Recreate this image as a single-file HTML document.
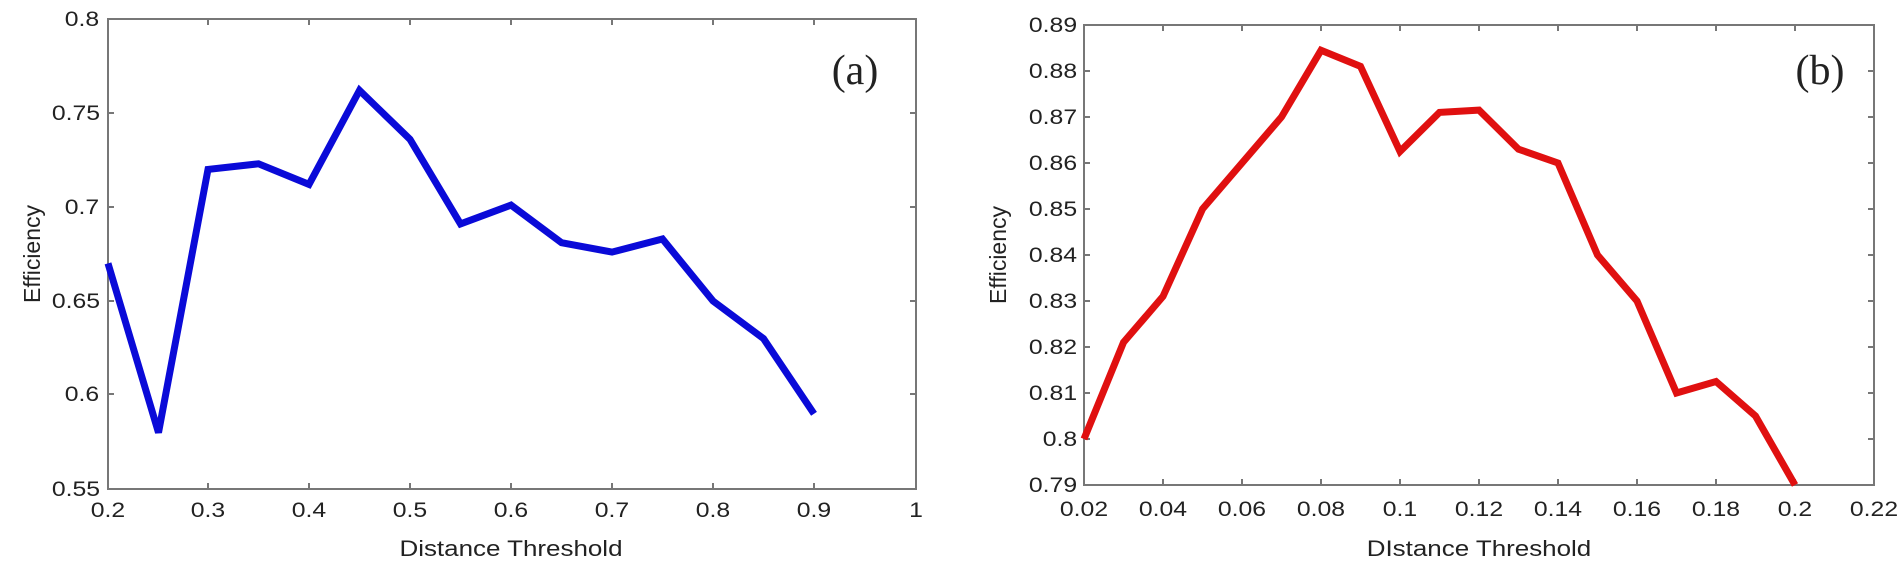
<!DOCTYPE html>
<html><head><meta charset="utf-8"><style>html,body{margin:0;padding:0;background:#fff}svg{display:block}
.t text{transform-box:fill-box;transform-origin:center;transform:scaleX(1.18)}
</style></head>
<body>
<svg width="1900" height="573" viewBox="0 0 1900 573" xmlns="http://www.w3.org/2000/svg" font-family="Liberation Sans, Arial, sans-serif">
<g id="a">
<rect x="108" y="19" width="808" height="470" fill="none" stroke="#777" stroke-width="2"/>
<g stroke="#777" stroke-width="2">
<path d="M208,489v-6M309,489v-6M410,489v-6M511,489v-6M612,489v-6M713,489v-6M814,489v-6"/>
<path d="M208,19v6M309,19v6M410,19v6M511,19v6M612,19v6M713,19v6M814,19v6"/>
<path d="M108,113h6M108,207h6M108,301h6M108,394h6"/>
<path d="M916,113h-6M916,207h-6M916,301h-6M916,394h-6"/>
</g>
<g class="t" font-size="21" fill="#222" text-anchor="middle">
<text x="108" y="517">0.2</text><text x="208" y="517">0.3</text><text x="309" y="517">0.4</text><text x="410" y="517">0.5</text><text x="511" y="517">0.6</text><text x="612" y="517">0.7</text><text x="713" y="517">0.8</text><text x="814" y="517">0.9</text><text x="916" y="517">1</text>
</g>
<g class="t" font-size="21" fill="#222" text-anchor="middle">
<text x="82" y="26">0.8</text><text x="76" y="120">0.75</text><text x="82" y="214">0.7</text><text x="76" y="308">0.65</text><text x="82" y="401">0.6</text><text x="76" y="496">0.55</text>
</g>
<g class="t" font-size="22" fill="#222" text-anchor="middle"><text x="511" y="556">Distance Threshold</text></g>
<text transform="translate(40,254) rotate(-90)" font-size="23" fill="#222" text-anchor="middle">Efficiency</text>
<text x="855" y="84" font-size="42" font-family="Liberation Serif, serif" fill="#222" text-anchor="middle">(a)</text>
<polyline fill="none" stroke="#0a0ad8" stroke-width="7" points="108,263.4 158.5,432.6 208,169.4 258.5,163.8 309,184.4 359.5,90.4 410,139.3 460.5,223.9 511,205.1 561.5,242.7 612,252.1 662.5,239 713,301 763.5,338.6 814,413.8"/>
</g>
<g id="b">
<rect x="1084" y="25" width="790" height="460" fill="none" stroke="#777" stroke-width="2"/>
<g stroke="#777" stroke-width="2">
<path d="M1163,485v-6M1242,485v-6M1321,485v-6M1400,485v-6M1479,485v-6M1558,485v-6M1637,485v-6M1716,485v-6M1795,485v-6"/>
<path d="M1163,25v6M1242,25v6M1321,25v6M1400,25v6M1479,25v6M1558,25v6M1637,25v6M1716,25v6M1795,25v6"/>
<path d="M1084,71h6M1084,117h6M1084,163h6M1084,209h6M1084,255h6M1084,301h6M1084,347h6M1084,393h6M1084,439h6"/>
<path d="M1874,71h-6M1874,117h-6M1874,163h-6M1874,209h-6M1874,255h-6M1874,301h-6M1874,347h-6M1874,393h-6M1874,439h-6"/>
</g>
<g class="t" font-size="21" fill="#222" text-anchor="middle">
<text x="1084" y="516">0.02</text><text x="1163" y="516">0.04</text><text x="1242" y="516">0.06</text><text x="1321" y="516">0.08</text><text x="1400" y="516">0.1</text><text x="1479" y="516">0.12</text><text x="1558" y="516">0.14</text><text x="1637" y="516">0.16</text><text x="1716" y="516">0.18</text><text x="1795" y="516">0.2</text><text x="1874" y="516">0.22</text>
</g>
<g class="t" font-size="21" fill="#222" text-anchor="middle">
<text x="1053" y="32">0.89</text><text x="1053" y="78">0.88</text><text x="1053" y="124">0.87</text><text x="1053" y="170">0.86</text><text x="1053" y="216">0.85</text><text x="1053" y="262">0.84</text><text x="1053" y="308">0.83</text><text x="1053" y="354">0.82</text><text x="1053" y="400">0.81</text><text x="1060" y="446">0.8</text><text x="1053" y="492">0.79</text>
</g>
<g class="t" font-size="22" fill="#222" text-anchor="middle"><text x="1479" y="556">DIstance Threshold</text></g>
<text transform="translate(1006,255) rotate(-90)" font-size="23" fill="#222" text-anchor="middle">Efficiency</text>
<text x="1820" y="84" font-size="42" font-family="Liberation Serif, serif" fill="#222" text-anchor="middle">(b)</text>
<polyline fill="none" stroke="#e01010" stroke-width="7" points="1084,439 1123.5,342.4 1163,296.4 1202.5,209 1242,163 1281.5,117 1321,50.3 1360.5,66.4 1400,151.5 1439.5,112.4 1479,110.1 1518.5,149.2 1558,163 1597.5,255 1637,301 1676.5,393 1716,381.5 1755.5,416 1795,485"/>
</g>
</svg>
</body></html>
